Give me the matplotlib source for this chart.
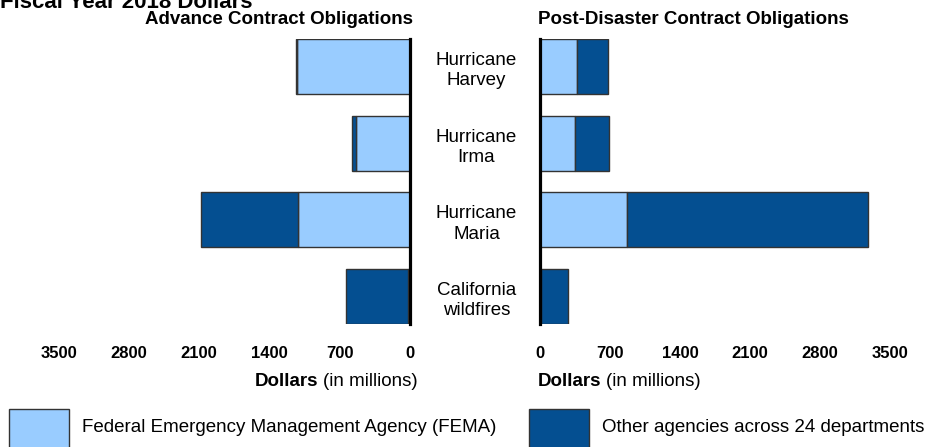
import matplotlib
matplotlib.use("Agg")
import matplotlib.pyplot as plt

plt.rcParams['font.family'] = ['Liberation Sans', 'DejaVu Sans']

# Data (millions of fiscal year 2018 dollars)
events = ["Hurricane\nHarvey", "Hurricane\nIrma", "Hurricane\nMaria", "California\nwildfires"]
advance_fema = [1130, 540, 1113, 15]
advance_other = [10, 33, 970, 625]
post_fema = [373, 350, 867, 10]
post_other = [310, 343, 2410, 273]
ticks = [0, 700, 1400, 2100, 2800, 3500]

light = "#99ccff"
dark = "#044f91"
edge = "#333333"

W, H = 938, 447
fig = plt.figure(figsize=(W / 100, H / 100), dpi=100)

top, bottom = 39, 324
ax_l = fig.add_axes([58.7 / W, 1 - bottom / H, (410 - 58.7) / W, (bottom - top) / H])
ax_r = fig.add_axes([540 / W, 1 - bottom / H, (890 - 540) / W, (bottom - top) / H])

ypos = range(len(events))
bh = 0.72

for ax, fema, other in [(ax_l, advance_fema, advance_other), (ax_r, post_fema, post_other)]:
    ax.barh(ypos, fema, height=bh, color=light, edgecolor=edge, linewidth=1)
    ax.barh(ypos, other, left=fema, height=bh, color=dark, edgecolor=edge, linewidth=1)
    ax.set_ylim(len(events) - 1 + bh / 2, -bh / 2)
    ax.set_xlim(0, 3500)
    ax.set_xticks(ticks)
    ax.set_xticklabels([str(t) for t in ticks], fontsize=12, fontweight='bold')
    ax.set_yticks([])
    ax.tick_params(axis='x', length=0, pad=16)
    for s in ['top', 'bottom', 'left', 'right']:
        ax.spines[s].set_visible(False)

ax_l.invert_xaxis()
ax_l.spines['right'].set_visible(True)
ax_l.spines['right'].set_linewidth(2.3)
ax_r.spines['left'].set_visible(True)
ax_r.spines['left'].set_linewidth(2.3)

# category labels between the panels
xlab = 1 + (476.5 - 410) / (410 - 58.7)
for i, name in enumerate(events):
    ax_l.annotate(name, xy=(xlab, i), xycoords=ax_l.get_yaxis_transform(),
                  xytext=(0, -3), textcoords='offset points',
                  ha='center', va='center', fontsize=13.5, linespacing=1.25)

# titles
fig.text(0.0, 1 - 8 / H, "Fiscal Year 2018 Dollars", ha='left', va='baseline',
         fontsize=16, fontweight='bold')
fig.text(278.5 / W, 1 - 19 / H, "Advance Contract Obligations", ha='center', va='center',
         fontsize=13.5, fontweight='bold')
fig.text(693 / W, 1 - 19 / H, "Post-Disaster Contract Obligations", ha='center', va='center',
         fontsize=13.5, fontweight='bold')

# axis labels
for x0 in [255, 538]:
    t1 = fig.text(x0 / W, 1 - 390 / H, "Dollars", ha='left', va='bottom',
                  fontsize=13.5, fontweight='bold')
    plt.annotate("(in millions)", xy=(1, 0), xycoords=t1, xytext=(3, 0),
                 textcoords='offset points', ha='left', va='bottom', fontsize=13.5)

# legend
fig.patches.append(plt.Rectangle((9 / W, -0.05), 60 / W, 1.05 - 409 / H, transform=fig.transFigure,
                                 facecolor=light, edgecolor=edge, linewidth=1))
fig.patches.append(plt.Rectangle((529.3 / W, -0.05), 60 / W, 1.05 - 409 / H, transform=fig.transFigure,
                                 facecolor=dark, edgecolor=edge, linewidth=1))
fig.text(82 / W, 1 - 428 / H, "Federal Emergency Management Agency (FEMA)", ha='left',
         va='center', fontsize=13.5)
fig.text(602 / W, 1 - 428 / H, "Other agencies across 24 departments", ha='left',
         va='center', fontsize=13.5)

fig.savefig("out.png", dpi=100)
